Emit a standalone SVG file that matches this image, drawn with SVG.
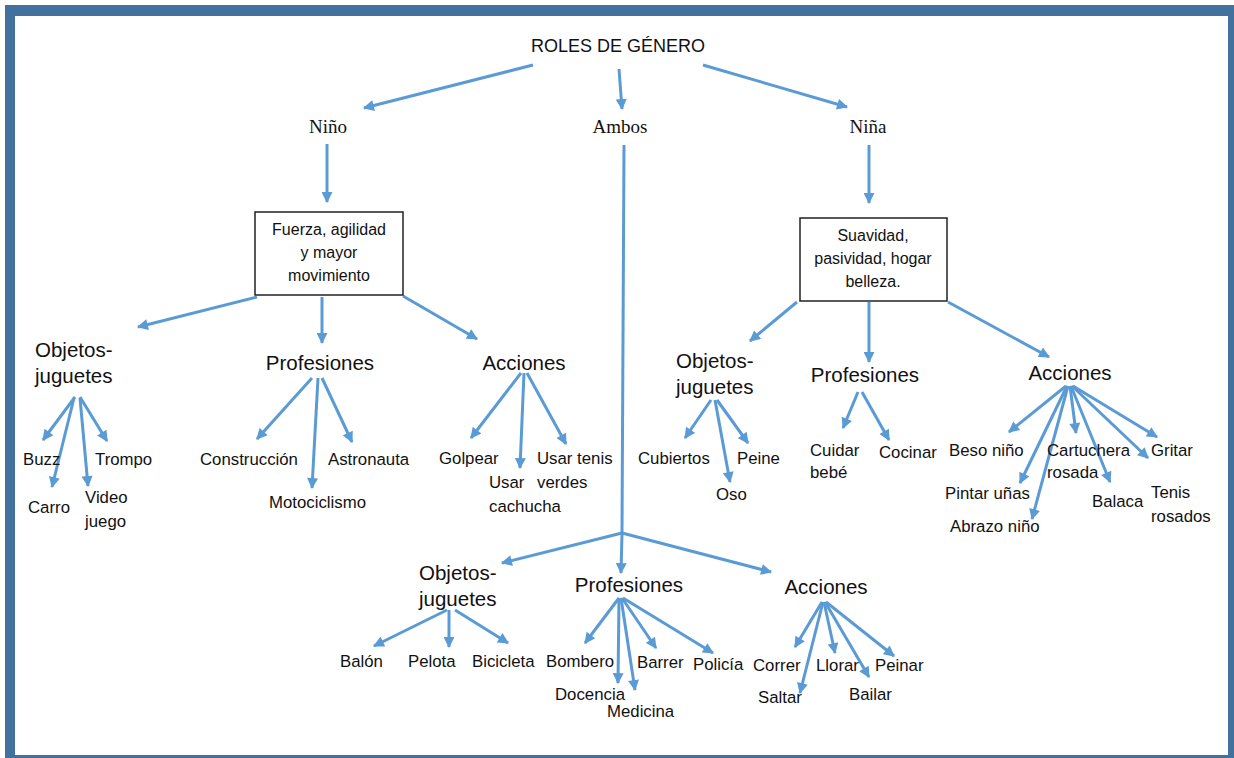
<svg xmlns="http://www.w3.org/2000/svg" width="1234" height="758" viewBox="0 0 1234 758">
<style>
.c line{stroke:#5B9BD5;stroke-width:3;marker-end:url(#ah)}
.c line.n{marker-end:none}
text{font-family:"Liberation Sans",Arial,sans-serif;fill:#111}
.t{font-size:18px}
.s{font-family:"Liberation Serif","Times New Roman",serif;font-size:19px}
.h{font-size:20.5px}
.l{font-size:16.8px}
.b{font-size:16px}
.box{fill:#fff;stroke:#222;stroke-width:1.5}
</style>
<defs>
<marker id="ah" viewBox="0 0 10 10" refX="9" refY="5" markerWidth="12" markerHeight="11" markerUnits="userSpaceOnUse" orient="auto">
<path d="M0,0 L10,5 L0,10 z" fill="#5B9BD5"/>
</marker>
</defs>
<rect x="0" y="0" width="1234" height="758" fill="#fff"/>
<rect x="5" y="5" width="1229" height="753" fill="#41719C"/>
<rect x="15" y="16" width="1213" height="739" fill="#fff"/>

<g class="c" id="connectors">
<line x1="533" y1="65" x2="364" y2="108"/>
<line x1="619" y1="69" x2="622" y2="109"/>
<line x1="703" y1="65" x2="847" y2="107"/>
<line x1="327" y1="144" x2="327" y2="202"/>
<line x1="869" y1="145" x2="869" y2="203"/>
<line class="n" x1="624" y1="145" x2="622" y2="533"/>
<line x1="622" y1="533" x2="502" y2="563"/>
<line x1="622" y1="533" x2="621" y2="573"/>
<line x1="622" y1="533" x2="771" y2="572"/>
<line x1="257" y1="297" x2="138" y2="327"/>
<line x1="322" y1="297" x2="322" y2="343"/>
<line x1="403" y1="296" x2="477" y2="339"/>
<line x1="797" y1="302" x2="750" y2="341"/>
<line x1="869" y1="302" x2="869" y2="362"/>
<line x1="948" y1="302" x2="1049" y2="357"/>
<line x1="75" y1="397" x2="43" y2="440"/>
<line x1="74" y1="398" x2="52" y2="487"/>
<line x1="80" y1="398" x2="88" y2="486"/>
<line x1="80" y1="397" x2="107" y2="441"/>
<line x1="312" y1="378" x2="257" y2="439"/>
<line x1="318" y1="378" x2="312" y2="488"/>
<line x1="322" y1="378" x2="352" y2="442"/>
<line x1="521" y1="373" x2="471" y2="438"/>
<line x1="524" y1="373" x2="520" y2="468"/>
<line x1="527" y1="373" x2="566" y2="444"/>
<line x1="711" y1="400" x2="685" y2="438"/>
<line x1="715" y1="400" x2="730" y2="482"/>
<line x1="717" y1="400" x2="748" y2="443"/>
<line x1="858" y1="392" x2="843" y2="428"/>
<line x1="862" y1="392" x2="889" y2="440"/>
<line x1="1066" y1="386" x2="1009" y2="432"/>
<line x1="1067" y1="386" x2="1020" y2="483"/>
<line x1="1068" y1="386" x2="1032" y2="519"/>
<line x1="1070" y1="386" x2="1076" y2="433"/>
<line x1="1071" y1="386" x2="1110" y2="482"/>
<line x1="1072" y1="386" x2="1148" y2="458"/>
<line x1="1073" y1="386" x2="1157" y2="437"/>
<line x1="447" y1="610" x2="374" y2="646"/>
<line x1="449" y1="610" x2="449" y2="647"/>
<line x1="455" y1="610" x2="508" y2="643"/>
<line x1="619" y1="598" x2="585" y2="643"/>
<line x1="619" y1="598" x2="618" y2="683"/>
<line x1="621" y1="598" x2="635" y2="690"/>
<line x1="622" y1="598" x2="656" y2="648"/>
<line x1="623" y1="598" x2="713" y2="653"/>
<line x1="822" y1="602" x2="795" y2="647"/>
<line x1="823" y1="602" x2="800" y2="693"/>
<line x1="824" y1="602" x2="835" y2="653"/>
<line x1="825" y1="602" x2="869" y2="677"/>
<line x1="826" y1="602" x2="894" y2="656"/>
</g>

<g id="title"><text class="t" x="618" y="52" text-anchor="middle">ROLES DE GÉNERO</text></g>
<g id="nino"><text class="s" x="328" y="133" text-anchor="middle">Niño</text></g>
<g id="ambos"><text class="s" x="620" y="133" text-anchor="middle">Ambos</text></g>
<g id="nina"><text class="s" x="868" y="133" text-anchor="middle">Niña</text></g>

<g id="box-nino">
<rect class="box" x="255" y="212" width="148" height="83"/>
<text class="b" x="329" y="235" text-anchor="middle">Fuerza, agilidad</text>
<text class="b" x="329" y="258" text-anchor="middle">y mayor</text>
<text class="b" x="329" y="281" text-anchor="middle">movimiento</text>
</g>
<g id="box-nina">
<rect class="box" x="800" y="218" width="147" height="83"/>
<text class="b" x="873" y="241" text-anchor="middle">Suavidad,</text>
<text class="b" x="873" y="264" text-anchor="middle">pasividad, hogar</text>
<text class="b" x="873" y="287" text-anchor="middle">belleza.</text>
</g>

<g id="l-objetos"><text class="h" x="35" y="357">Objetos-</text><text class="h" x="35" y="383">juguetes</text></g>
<g id="l-profesiones"><text class="h" x="320" y="370" text-anchor="middle">Profesiones</text></g>
<g id="l-acciones"><text class="h" x="524" y="370" text-anchor="middle">Acciones</text></g>

<g id="l-buzz"><text class="l" x="23" y="465">Buzz</text></g>
<g id="l-carro"><text class="l" x="28" y="513">Carro</text></g>
<g id="l-video"><text class="l" x="85" y="503">Video</text><text class="l" x="85" y="527">juego</text></g>
<g id="l-trompo"><text class="l" x="95" y="465">Trompo</text></g>
<g id="l-construccion"><text class="l" x="200" y="465">Construcción</text></g>
<g id="l-moto"><text class="l" x="269" y="508">Motociclismo</text></g>
<g id="l-astro"><text class="l" x="328" y="465">Astronauta</text></g>
<g id="l-golpear"><text class="l" x="439" y="464">Golpear</text></g>
<g id="l-cachucha"><text class="l" x="489" y="488">Usar</text><text class="l" x="489" y="512">cachucha</text></g>
<g id="l-tenisverdes"><text class="l" x="537" y="464">Usar tenis</text><text class="l" x="537" y="488">verdes</text></g>

<g id="r-objetos"><text class="h" x="676" y="368">Objetos-</text><text class="h" x="676" y="394">juguetes</text></g>
<g id="r-profesiones"><text class="h" x="865" y="382" text-anchor="middle">Profesiones</text></g>
<g id="r-acciones"><text class="h" x="1070" y="380" text-anchor="middle">Acciones</text></g>
<g id="r-cubiertos"><text class="l" x="638" y="464">Cubiertos</text></g>
<g id="r-oso"><text class="l" x="716" y="500">Oso</text></g>
<g id="r-peine"><text class="l" x="737" y="464">Peine</text></g>
<g id="r-cuidar"><text class="l" x="810" y="456">Cuidar</text><text class="l" x="810" y="478">bebé</text></g>
<g id="r-cocinar"><text class="l" x="879" y="458">Cocinar</text></g>
<g id="r-beso"><text class="l" x="949" y="456">Beso niño</text></g>
<g id="r-pintar"><text class="l" x="945" y="499">Pintar uñas</text></g>
<g id="r-abrazo"><text class="l" x="950" y="532">Abrazo niño</text></g>
<g id="r-cartuchera"><text class="l" x="1047" y="456">Cartuchera</text><text class="l" x="1047" y="478">rosada</text></g>
<g id="r-balaca"><text class="l" x="1092" y="507">Balaca</text></g>
<g id="r-tenis"><text class="l" x="1151" y="498">Tenis</text><text class="l" x="1151" y="522">rosados</text></g>
<g id="r-gritar"><text class="l" x="1151" y="456">Gritar</text></g>

<g id="a-objetos"><text class="h" x="419" y="580">Objetos-</text><text class="h" x="419" y="606">juguetes</text></g>
<g id="a-profesiones"><text class="h" x="629" y="592" text-anchor="middle">Profesiones</text></g>
<g id="a-acciones"><text class="h" x="826" y="594" text-anchor="middle">Acciones</text></g>
<g id="a-balon"><text class="l" x="340" y="667">Balón</text></g>
<g id="a-pelota"><text class="l" x="408" y="667">Pelota</text></g>
<g id="a-bicicleta"><text class="l" x="472" y="667">Bicicleta</text></g>
<g id="a-bombero"><text class="l" x="546" y="667">Bombero</text></g>
<g id="a-docencia"><text class="l" x="555" y="700">Docencia</text></g>
<g id="a-medicina"><text class="l" x="607" y="717">Medicina</text></g>
<g id="a-barrer"><text class="l" x="637" y="668">Barrer</text></g>
<g id="a-policia"><text class="l" x="693" y="670">Policía</text></g>
<g id="a-correr"><text class="l" x="753" y="671">Correr</text></g>
<g id="a-saltar"><text class="l" x="758" y="703">Saltar</text></g>
<g id="a-llorar"><text class="l" x="816" y="671">Llorar</text></g>
<g id="a-bailar"><text class="l" x="849" y="700">Bailar</text></g>
<g id="a-peinar"><text class="l" x="875" y="671">Peinar</text></g>
</svg>
